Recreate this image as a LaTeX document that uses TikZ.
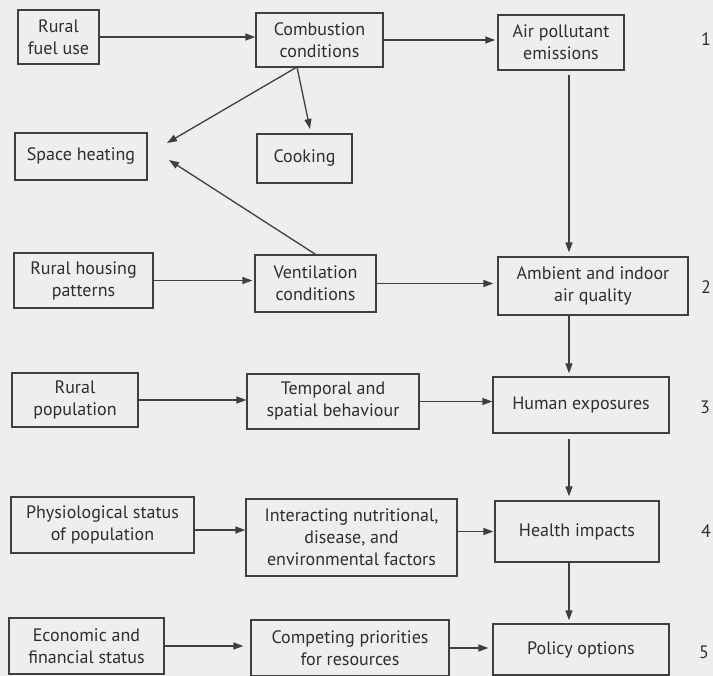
\documentclass[tikz,border=0pt]{standalone}
\usepackage{fontspec}
\setmainfont{PT Sans}
\usetikzlibrary{arrows.meta}
\definecolor{bgc}{RGB}{236,239,237}
\definecolor{linec}{RGB}{62,64,64}
\definecolor{textc}{RGB}{45,47,47}
\begin{document}
\begin{tikzpicture}[x=1pt,y=-1pt,
  box/.style={draw=linec, line width=1.3pt, align=center, inner sep=0pt, text=textc,
              font=\fontsize{18}{22}\selectfont},
  arr/.style={draw=linec, line width=1.3pt, -{Triangle[length=10pt,width=7pt]}},
  num/.style={text=textc, inner sep=0pt, font=\fontsize{18}{22}\selectfont}]
\fill[bgc] (0,0) rectangle (713,676);
\useasboundingbox (0,0) rectangle (713,676);

% row 1
\node[box, minimum width=81pt, minimum height=54pt] (fuel) at (58.5,37) {Rural\\fuel use};
\node[box, minimum width=127pt, minimum height=54pt] (comb) at (319.5,40) {Combustion\\conditions};
\node[box, minimum width=126pt, minimum height=55pt] (air) at (561,42.5) {Air pollutant\\emissions};
\node[num] (n1) at (706,39) {1};
\node[box, minimum width=132pt, minimum height=47pt] (heat) at (81,156.5) {Space heating};
\node[box, minimum width=95pt, minimum height=49pt] (cook) at (304.5,158.5) {Cooking};

% row 2
\node[box, minimum width=139pt, minimum height=55pt] (housing) at (83.5,280.5) {Rural housing\\patterns};
\node[box, minimum width=121pt, minimum height=57pt] (vent) at (315.5,283.5) {Ventilation\\conditions};
\node[box, minimum width=190pt, minimum height=58pt] (amb) at (593,286) {Ambient and indoor\\air quality};
\node[num] (n2) at (706,287) {2};

% row 3
\node[box, minimum width=126pt, minimum height=54pt] (rpop) at (75,400) {Rural\\population};
\node[box, minimum width=172pt, minimum height=55pt] (temp) at (333,401.5) {Temporal and\\spatial behaviour};
\node[box, minimum width=176pt, minimum height=56pt] (human) at (581,405) {Human exposures};
\node[num] (n3) at (705,407) {3};

% row 4
\node[box, minimum width=183pt, minimum height=56pt] (phys) at (102.5,525) {Physiological status\\of population};
\node[box, minimum width=211pt, minimum height=77pt] (inter) at (351.5,537.5) {Interacting nutritional,\\disease, and\\environmental factors};
\node[box, minimum width=164pt, minimum height=61pt] (health) at (577,531.5) {Health impacts};
\node[num] (n4) at (706,531) {4};

% row 5
\node[box, minimum width=155pt, minimum height=56pt] (econ) at (86.5,646) {Economic and\\financial status};
\node[box, minimum width=198pt, minimum height=56pt] (comp) at (350,648) {Competing priorities\\for resources};
\node[box, minimum width=176pt, minimum height=51pt] (policy) at (581,649.5) {Policy options};
\node[num] (n5) at (704,652) {5};

% helper coordinates
\coordinate (combout) at (297,67);
\coordinate (heattip1) at (167,143);
\coordinate (cooktip) at (310,129);
\coordinate (heattip2) at (169,160);
\coordinate (xmain) at (569,0);
\coordinate (physy) at (0,530);

% horizontal arrows
\draw[arr] (fuel.east) -- (fuel.east -| comb.west);
\draw[arr, shorten >=2pt] (comb.east) -- (comb.east -| air.west);
\draw[arr, shorten >=2pt] (housing.east) -- (housing.east -| vent.west);
\draw[arr, shorten >=4pt] (vent.east) -- (vent.east -| amb.west);
\draw[arr] (rpop.east) -- (rpop.east -| temp.west);
\draw[arr] (temp.east) -- (temp.east -| human.west);
\draw[arr] (phys.east |- physy) -- (inter.west |- physy);
\draw[arr, shorten >=1pt] (inter.east |- health.west) -- (health.west);
\draw[arr, shorten >=7pt] (econ.east) -- (econ.east -| comp.west);
\draw[arr, shorten >=4pt] (comp.east) -- (comp.east -| policy.west);

% diagonal arrows
\draw[arr] (combout) -- (heattip1);
\draw[arr] (combout) -- (cooktip);
\draw[arr] (vent.north) -- (heattip2);

% vertical arrows
\draw[arr, shorten <=4pt, shorten >=4pt] (air.south -| xmain) -- (amb.north -| xmain);
\draw[arr, shorten >=3pt] (amb.south -| xmain) -- (human.north -| xmain);
\draw[arr, shorten <=5pt, shorten >=4pt] (human.south -| xmain) -- (health.north -| xmain);
\draw[arr, shorten >=3pt] (health.south -| xmain) -- (policy.north -| xmain);
\end{tikzpicture}
\end{document}
